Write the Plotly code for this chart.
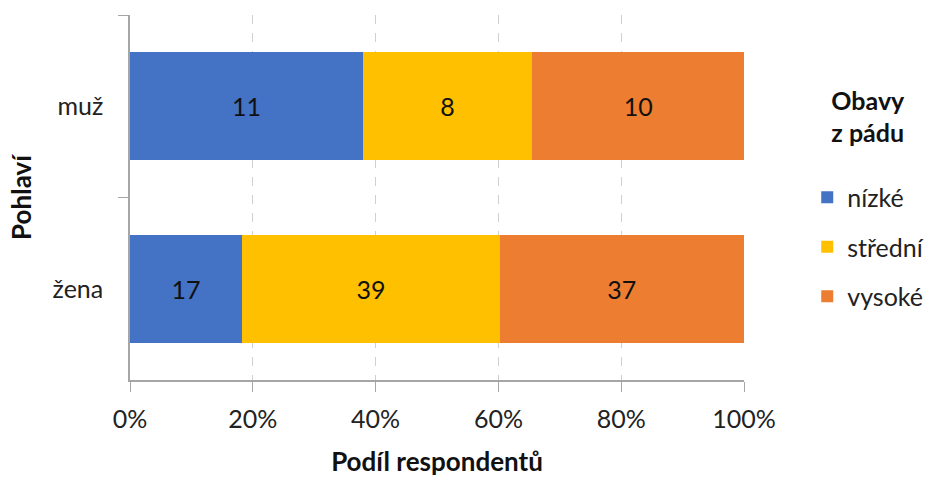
import plotly.graph_objects as go

categories = ["muž", "žena"]
series_names = ["nízké", "střední", "vysoké"]
nizke = [11, 17]
stredni = [8, 39]
vysoke = [10, 37]
colors = ["#4472C4", "#FFC000", "#ED7D31"]
x_ticks = [0, 20, 40, 60, 80, 100]
x_tick_labels = ["0%", "20%", "40%", "60%", "80%", "100%"]

FONT = "Lato, Open Sans, sans-serif"

fig = go.Figure()
for name, vals, col in zip(series_names, [nizke, stredni, vysoke], colors):
    fig.add_trace(go.Bar(
        y=categories, x=vals, name=name, orientation="h",
        marker=dict(color=col, line=dict(width=0)),
        text=vals, texttemplate="%{text}", textposition="inside",
        insidetextanchor="middle", textangle=0,
        textfont=dict(family=FONT, size=25, color="#111"),
        legendgroup=name,
    ))

fig.update_layout(
    barmode="stack", barnorm="percent", bargap=0.41,
    width=930, height=477,
    margin=dict(l=130, r=186, t=15, b=97, autoexpand=False),
    plot_bgcolor="white", paper_bgcolor="white",
    font=dict(family=FONT, size=25, color="#222"),
    uniformtext=dict(mode=False),
    legend=dict(
        title=dict(text="<b>Obavy<br>z pádu</b><br> ", font=dict(size=25, color="#111"), side="top center"),
        xref="container", x=0.868, xanchor="left", y=0.83, yanchor="top",
        traceorder="grouped", tracegroupgap=14,
        font=dict(size=25, color="#222"),
        itemwidth=30,
    ),
    showlegend=True,
)
fig.update_xaxes(
    range=[0, 100], tickvals=x_ticks, ticktext=x_tick_labels,
    showgrid=True, gridcolor="#d0d0d0", griddash="dash", gridwidth=1,
    showline=True, linecolor="#a6a6a6", linewidth=1.5,
    ticks="outside", ticklen=10, tickcolor="#a6a6a6",
    zeroline=False, ticklabelstandoff=6,
    title=dict(text="<b>Podíl respondentů</b>", font=dict(size=26, color="#111"), standoff=24),
)
fig.update_yaxes(
    categoryorder="array", categoryarray=categories, autorange="reversed",
    showline=True, linecolor="#a6a6a6", linewidth=1.5,
    ticks="outside", ticklen=10, tickcolor="#a6a6a6", tickson="boundaries",
    showgrid=False, ticklabelstandoff=20,
    title=dict(text="<b>Pohlaví</b>", font=dict(size=26, color="#111"), standoff=14),
)

fig.write_html("out.html")
